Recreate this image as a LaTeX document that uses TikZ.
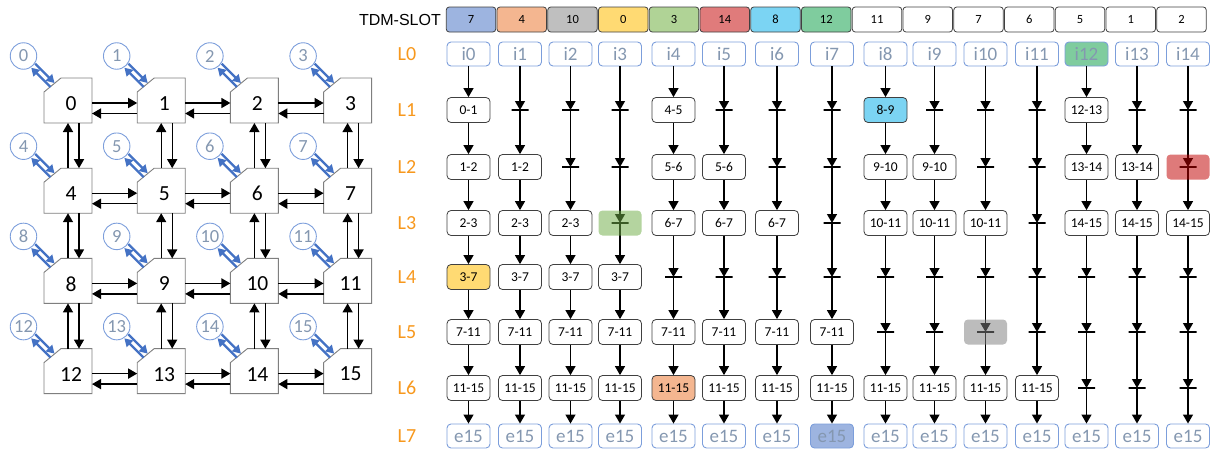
\documentclass[tikz,border=0pt]{standalone}
\usepackage{fontspec}
\usepackage{ifthen}
\setmainfont{Carlito}
\newfontfamily\arialfont{Liberation Sans}
\usetikzlibrary{arrows.meta,calc}

\definecolor{slotblue}{HTML}{9DB4E0}
\definecolor{slotorange}{HTML}{F4B690}
\definecolor{slotgrey}{HTML}{BFBFBF}
\definecolor{slotyellow}{HTML}{FFDA73}
\definecolor{slotgreen}{HTML}{B0D396}
\definecolor{slotred}{HTML}{E07B7B}
\definecolor{slotcyan}{HTML}{7BD4F3}
\definecolor{slotmint}{HTML}{7FCC9E}
\definecolor{shadegreen}{HTML}{70AD47}
\definecolor{shadered}{HTML}{C00000}
\definecolor{shadegrey}{HTML}{7F7F7F}
\definecolor{corelink}{HTML}{4472C4}
\definecolor{coreedge}{HTML}{7C9EDB}
\definecolor{coretext}{HTML}{8497B0}
\definecolor{levelorange}{HTML}{F7981D}
\definecolor{boxedge}{HTML}{404040}
\definecolor{routeredge}{HTML}{7F7F7F}

% one router: a square with its top-left corner cut off, and its number
\newcommand\router[4]{%
  \node[routerbox] (#1) at (#2,#3) {};
  \draw[routerline] ([xshift=17pt]#1.north west) -- (#1.north east)
    -- (#1.south east) -- (#1.south west) -- ([yshift=-14pt]#1.north west) -- cycle;
  \node[rlabel] (t#1) at ([shift={(3pt,-3pt)}]#1.center) {#4};
  \coordinate (m#1) at ([shift={(-15.5pt,15.5pt)}]#1.center);
}

% one cell of the schedule: a hop box, or a bar where the flit waits
\newcommand\place[3]{%
  \ifthenelse{\equal{#3}{x}}
    {\node[cellbar] (n#1-#2) at (x#1 |- y#2) {};}
    {\node[cellbox, cell #1-#2/.try] (n#1-#2) at (x#1 |- y#2) {#3};}}
\newcommand\cellcolumn[7]{%
  \place{#1}{1}{#2}\place{#1}{2}{#3}\place{#1}{3}{#4}%
  \place{#1}{4}{#5}\place{#1}{5}{#6}\place{#1}{6}{#7}}

\begin{document}
\begin{tikzpicture}[x=1pt,y=-1pt,
  routerbox/.style={minimum width=48pt, minimum height=45pt, inner sep=0pt, outer sep=0pt},
  routerline/.style={draw=routeredge, fill=white, line width=0.9pt},
  rlabel/.style={font=\fontsize{21.5}{21.5}\selectfont, inner sep=0pt},
  core/.style={circle, draw=coreedge, line width=0.9pt, minimum size=26.5pt, inner sep=0pt,
    text=coretext, font=\fontsize{18.5}{18.5}\selectfont},
  link/.style={line width=1.4pt, -{Triangle[width=10pt,length=9pt]}},
  locallink/.style={draw=corelink, line width=2.3pt, -{Triangle[width=9pt,length=8pt]}},
  slot/.style={draw=boxedge, rounded corners=3pt, minimum width=49.5pt, minimum height=25pt,
    inner sep=0pt, font=\fontsize{12.5}{12.5}\selectfont, line width=0.8pt},
  ibox/.style={draw=coreedge, rounded corners=4pt, minimum width=43pt, minimum height=24pt,
    inner sep=0pt, text=coretext, font=\fontsize{19}{19}\selectfont, line width=0.9pt},
  cellbox/.style={draw=boxedge, fill=white, rounded corners=4pt, minimum width=43pt,
    minimum height=25pt, inner sep=0pt, font=\fontsize{13.5}{13.5}\selectfont, line width=0.8pt},
  cellbar/.style={draw, line width=1.3pt, minimum width=17pt, minimum height=0pt,
    inner sep=0pt, outer sep=0pt},
  flow/.style={line width=1.3pt, -{Triangle[width=10pt,length=9pt]}},
  hilite/.style={rounded corners=4pt, minimum width=43pt, minimum height=25pt,
    inner sep=0pt, fill opacity=0.52},
  level/.style={text=levelorange, font=\fontsize{20}{20}\selectfont},
  cell 0-4/.style={fill=slotyellow},
  cell 4-6/.style={fill=slotorange},
  cell 8-1/.style={fill=slotcyan},
  cell 12-0/.style={fill=slotmint},
  cell 7-7/.style={fill=slotblue},
]
\useasboundingbox (0,0) rectangle (1213,450);

% ---------------- 4x4 mesh of routers ----------------
\foreach \n in {0,...,15}{
  \pgfmathtruncatemacro\col{mod(\n,4)}
  \pgfmathtruncatemacro\row{div(\n,4)}
  \pgfmathsetmacro\xx{68+93.2*\col}
  \pgfmathsetmacro\yy{100.5+90.2*\row}
  \router{r\n}{\xx}{\yy}{\n}
  \node[core] (c\n) at ([shift={(-44.5pt,44.5pt)}]r\n.center) {\n};
  \draw[locallink] ([shift={(2pt,2pt)}]c\n.-45) -- ([shift={(2pt,2pt)}]mr\n);
  \draw[locallink] ([shift={(-2pt,-2pt)}]mr\n) -- ([shift={(-2pt,-2pt)}]c\n.-45);
}
% east/west links
\foreach \row in {0,...,3}{
  \foreach \col in {0,1,2}{
    \pgfmathtruncatemacro\a{4*\row+\col}
    \pgfmathtruncatemacro\b{\a+1}
    \draw[link] ([yshift=-2.5pt]r\a.east) -- ([yshift=-2.5pt]r\b.west);
    \draw[link] ([yshift=-13pt]r\b.west) -- ([yshift=-13pt]r\a.east);
  }
}
% north/south links
\foreach \a in {0,...,11}{
  \pgfmathtruncatemacro\b{\a+4}
  \draw[link] (r\b.north) -- (r\a.south);
  \draw[link] ([xshift=11pt]r\a.south) -- ([xshift=11pt]r\b.north);
}

% ---------------- TDM slot table ----------------
\node[font=\arialfont\fontsize{16}{16}\selectfont, anchor=east, inner sep=0pt] (tdm) at (441,19.5) {TDM-SLOT};
\foreach \k/\v/\c in {0/7/slotblue,1/4/slotorange,2/10/slotgrey,3/0/slotyellow,
    4/3/slotgreen,5/14/slotred,6/8/slotcyan,7/12/slotmint,8/11/white,9/9/white,
    10/7/white,11/6/white,12/5/white,13/1/white,14/2/white}
  \node[slot, fill=\c] (s\k) at (471+50.75*\k,19.5) {\v};

% ---------------- columns and levels ----------------
\foreach \k/\xv in {0/468.5,1/520,2/570.5,3/620,4/673.5,5/724,6/777,7/832,
    8/885.5,9/934.5,10/985.5,11/1037,12/1086.5,13/1137,14/1188}
  \coordinate (x\k) at (\xv,0);
\foreach \l/\yv in {0/54,1/110,2/167,3/223,4/277,5/332,6/388,7/436}{
  \coordinate (y\l) at (0,\yv);
  \node[level] (lab\l) at (407,\yv) {L\l};
}

\foreach \k in {0,...,14}{
  \node[ibox, cell \k-0/.try] (n\k-0) at (x\k |- y0) {i\k};
  \node[ibox, cell \k-7/.try] (n\k-7) at (x\k |- y7) {e15};
}

\cellcolumn{0}{0-1}{1-2}{2-3}{3-7}{7-11}{11-15}
\cellcolumn{1}{x}{1-2}{2-3}{3-7}{7-11}{11-15}
\cellcolumn{2}{x}{x}{2-3}{3-7}{7-11}{11-15}
\cellcolumn{3}{x}{x}{x}{3-7}{7-11}{11-15}
\cellcolumn{4}{4-5}{5-6}{6-7}{x}{7-11}{11-15}
\cellcolumn{5}{x}{5-6}{6-7}{x}{7-11}{11-15}
\cellcolumn{6}{x}{x}{6-7}{x}{7-11}{11-15}
\cellcolumn{7}{x}{x}{x}{x}{7-11}{11-15}
\cellcolumn{8}{8-9}{9-10}{10-11}{x}{x}{11-15}
\cellcolumn{9}{x}{9-10}{10-11}{x}{x}{11-15}
\cellcolumn{10}{x}{x}{10-11}{x}{x}{11-15}
\cellcolumn{11}{x}{x}{x}{x}{x}{11-15}
\cellcolumn{12}{12-13}{13-14}{14-15}{x}{x}{x}
\cellcolumn{13}{x}{13-14}{14-15}{x}{x}{x}
\cellcolumn{14}{x}{x}{14-15}{x}{x}{x}

\foreach \k in {0,...,14}{
  \foreach \l [remember=\l as \p (initially 0)] in {1,...,7}
    \draw[flow] (n\k-\p) -- (n\k-\l);
}

% shaded waiting slots
\node[hilite, fill=shadegreen] (h3) at (n3-3) {};
\node[hilite, fill=shadered] (h14) at (n14-2) {};
\node[hilite, fill=shadegrey] (h10) at (n10-5) {};
\end{tikzpicture}
\end{document}
